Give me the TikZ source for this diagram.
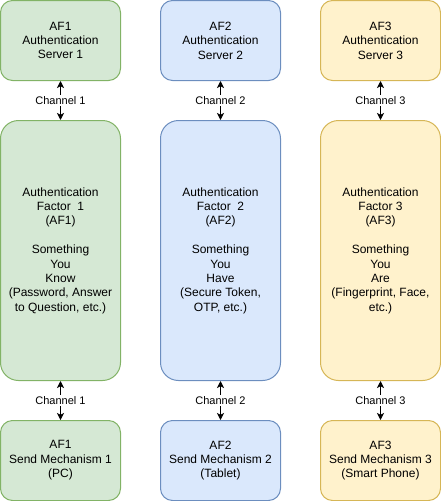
\documentclass[tikz,border=0pt]{standalone}
\usepackage{fontspec}
\setmainfont{Liberation Sans}
\usetikzlibrary{arrows.meta}
\definecolor{gfill}{HTML}{D5E8D4}\definecolor{gdraw}{HTML}{82B366}
\definecolor{bfill}{HTML}{DAE8FC}\definecolor{bdraw}{HTML}{6C8EBF}
\definecolor{yfill}{HTML}{FFF2CC}\definecolor{ydraw}{HTML}{D6B656}
\tikzset{
  box/.style={rectangle, line width=1pt, minimum width=120pt, inner sep=0pt, align=center,
    font=\fontsize{12pt}{14.4pt}\selectfont},
  smallbox/.style={box, minimum height=80pt, rounded corners=12pt},
  bigbox/.style={box, minimum height=260pt, rounded corners=18pt},
  green/.style={fill=gfill, draw=gdraw},
  blue/.style={fill=bfill, draw=bdraw},
  yellow/.style={fill=yfill, draw=ydraw},
  chan/.style={line width=1pt, {Stealth[length=7pt,width=7pt,inset=1.8pt]}-{Stealth[length=7pt,width=7pt,inset=1.8pt]}},
  chanlabel/.style={fill=white, inner sep=1pt, font=\fontsize{11pt}{13.2pt}\selectfont}
}
\begin{document}
\begin{tikzpicture}[x=1pt, y=-1pt]
\useasboundingbox (0,0) rectangle (441,501);
% column 1
\node[smallbox, green] (s1) at (60.5,40.5) {AF1\\Authentication\\Server 1};
\node[bigbox, green] (f1) at (60.5,250.5) {Authentication\\Factor\ \ 1\\(AF1)\\[14.4pt]Something\\You\\Know\\(Password, Answer\\to Question, etc.)};
\node[smallbox, green] (m1) at (60.5,460.5) {AF1\\Send Mechanism 1\\(PC)};
% column 2
\node[smallbox, blue] (s2) at (220.5,40.5) {AF2\\Authentication\\Server 2};
\node[bigbox, blue] (f2) at (220.5,250.5) {Authentication\\Factor\ \ 2\\(AF2)\\[14.4pt]Something\\You\\Have\\(Secure Token,\\OTP, etc.)};
\node[smallbox, blue] (m2) at (220.5,460.5) {AF2\\Send Mechanism 2\\(Tablet)};
% column 3
\node[smallbox, yellow] (s3) at (380.5,40.5) {AF3\\Authentication\\Server 3};
\node[bigbox, yellow] (f3) at (380.5,250.5) {Authentication\\Factor 3\\(AF3)\\[14.4pt]Something\\You\\Are\\(Fingerprint, Face,\\etc.)};
\node[smallbox, yellow] (m3) at (380.5,460.5) {AF3\\Send Mechanism 3\\(Smart Phone)};
% channels
\draw[chan] (s1) -- node[chanlabel] {Channel 1} (f1);
\draw[chan] (f1) -- node[chanlabel] {Channel 1} (m1);
\draw[chan] (s2) -- node[chanlabel] {Channel 2} (f2);
\draw[chan] (f2) -- node[chanlabel] {Channel 2} (m2);
\draw[chan] (s3) -- node[chanlabel] {Channel 3} (f3);
\draw[chan] (f3) -- node[chanlabel] {Channel 3} (m3);
\end{tikzpicture}
\end{document}
